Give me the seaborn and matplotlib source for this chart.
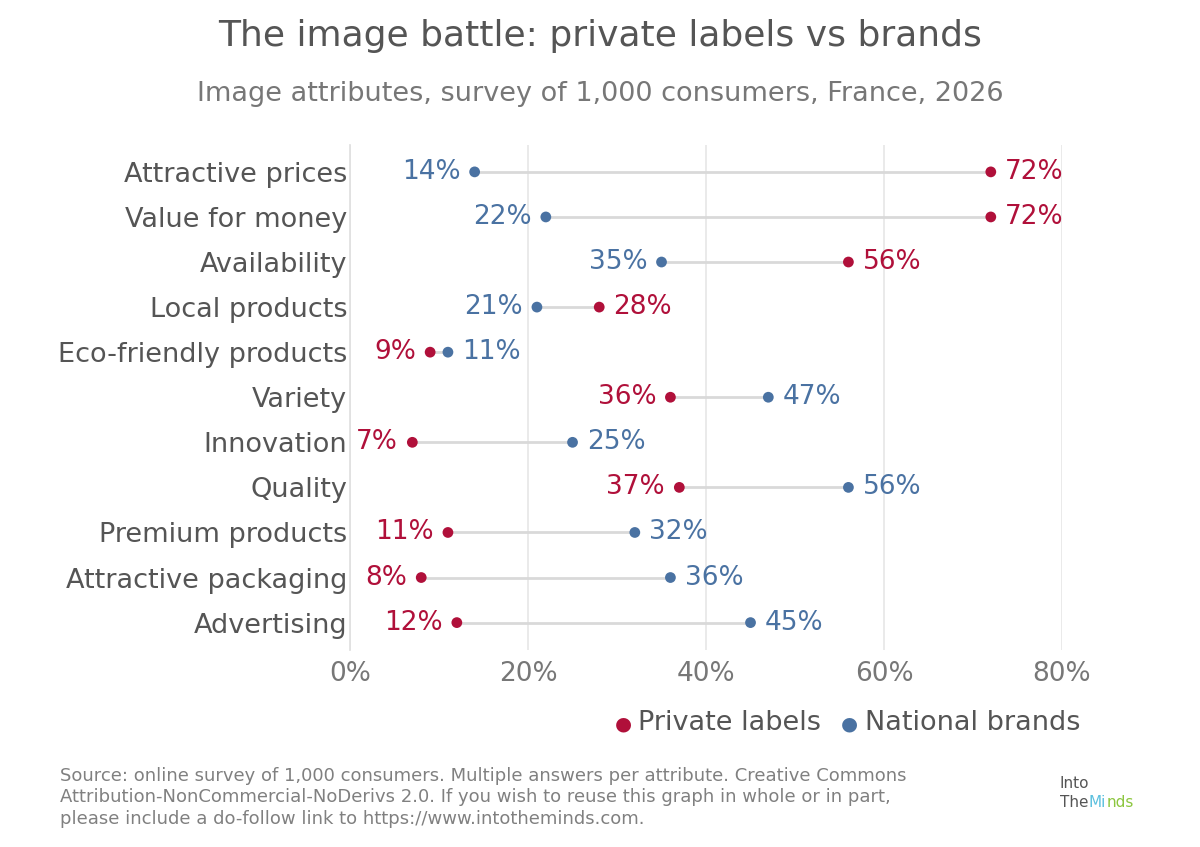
import matplotlib
matplotlib.use("Agg")
import matplotlib.pyplot as plt
import pandas as pd
import seaborn as sns

categories = ["Attractive prices", "Value for money", "Availability", "Local products",
              "Eco-friendly products", "Variety", "Innovation", "Quality",
              "Premium products", "Attractive packaging", "Advertising"]
private_labels = [72, 72, 56, 28, 9, 36, 7, 37, 11, 8, 12]
national_brands = [14, 22, 35, 21, 11, 47, 25, 56, 32, 36, 45]

RED = "#b0103a"
BLUE = "#4a72a2"
GREY = "#555555"

sns.set_theme(style="white")
plt.rcParams["font.family"] = ["DejaVu Sans"]

df = pd.DataFrame({"attr": categories, "Private labels": private_labels,
                   "National brands": national_brands})
long = df.melt(id_vars="attr", var_name="series", value_name="pct")

fig = plt.figure(figsize=(12, 8.47), dpi=100)
ax = fig.add_axes([0.2917, 0.233, 0.5933, 0.596])

for i, row in df.iterrows():
    ax.plot([row["Private labels"], row["National brands"]], [i, i],
            color="#d9d9d9", lw=2, zorder=1)

sns.scatterplot(data=long, x="pct", y="attr", hue="series",
                palette={"Private labels": RED, "National brands": BLUE},
                s=60, edgecolor="none", zorder=3, ax=ax, legend=False)

for i, row in df.iterrows():
    p, n = row["Private labels"], row["National brands"]
    for v, c, right in [(p, RED, p >= n), (n, BLUE, n > p)]:
        if right:
            ax.text(v + 1.6, i, f"{v}%", color=c, fontsize=19, va="center", ha="left")
        else:
            ax.text(v - 1.6, i, f"{v}%", color=c, fontsize=19, va="center", ha="right")

ax.set_xlim(0, 80)
ax.set_ylim(10.6, -0.6)
ax.set_xticks([0, 20, 40, 60, 80])
ax.set_xticklabels(["0%", "20%", "40%", "60%", "80%"])
ax.tick_params(axis="x", labelsize=19, colors="#777777", length=0, pad=8)
ax.tick_params(axis="y", labelsize=19.5, colors=GREY, length=0, pad=2)
ax.set_xlabel("")
ax.set_ylabel("")
ax.grid(axis="x", color="#e6e6e6", lw=1.2)
ax.set_axisbelow(True)
for s in ["top", "right", "bottom"]:
    ax.spines[s].set_visible(False)
ax.spines["left"].set_color("#e0e0e0")

fig.text(0.5, 0.958, "The image battle: private labels vs brands", ha="center",
         va="center", fontsize=26, color=GREY)
fig.text(0.5, 0.889, "Image attributes, survey of 1,000 consumers, France, 2026", ha="center",
         va="center", fontsize=19.5, color="#777777")

# legend
fig.text(0.512, 0.145, "●", color=RED, fontsize=14, va="center", ha="left")
fig.text(0.532, 0.146, "Private labels", color=GREY, fontsize=19.5, va="center", ha="left")
fig.text(0.701, 0.145, "●", color=BLUE, fontsize=14, va="center", ha="left")
fig.text(0.721, 0.146, "National brands", color=GREY, fontsize=19.5, va="center", ha="left")

fig.text(0.05, 0.059,
         "Source: online survey of 1,000 consumers. Multiple answers per attribute. Creative Commons\n"
         "Attribution-NonCommercial-NoDerivs 2.0. If you wish to reuse this graph in whole or in part,\n"
         "please include a do-follow link to https://www.intotheminds.com.",
         fontsize=13, color="#808080", va="center", ha="left", linespacing=1.25)
fig.text(0.883, 0.075, "Into", fontsize=11, color=GREY, ha="left", va="center")
fig.text(0.883, 0.053, "The", fontsize=11, color=GREY, ha="left", va="center")
fig.text(0.907, 0.053, "Mi", fontsize=11, color="#5bc0de", ha="left", va="center")
fig.text(0.922, 0.053, "nds", fontsize=11, color="#8cc63f", ha="left", va="center")

fig.savefig("out.png", dpi=100)
